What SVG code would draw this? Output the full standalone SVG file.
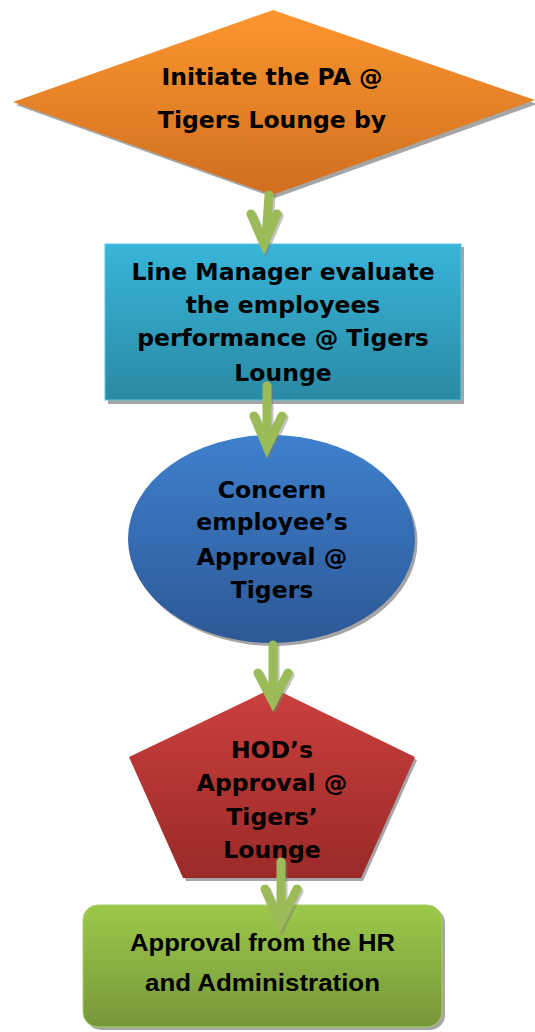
<svg xmlns="http://www.w3.org/2000/svg" width="535" height="1032" viewBox="0 0 535 1032">
<defs>
<linearGradient id="gOrange" x1="0" y1="0" x2="0" y2="1"><stop offset="0" stop-color="#FC962F"/><stop offset="1" stop-color="#D06E1F"/></linearGradient>
<linearGradient id="gCyan" x1="0" y1="0" x2="0" y2="1"><stop offset="0" stop-color="#38B5DA"/><stop offset="1" stop-color="#2A8AA3"/></linearGradient>
<linearGradient id="gBlue" x1="0" y1="0" x2="0" y2="1"><stop offset="0" stop-color="#3E80CD"/><stop offset="1" stop-color="#2D5896"/></linearGradient>
<linearGradient id="gRed" x1="0" y1="0" x2="0" y2="1"><stop offset="0" stop-color="#CB403D"/><stop offset="1" stop-color="#9A2A28"/></linearGradient>
<linearGradient id="gGreen" x1="0" y1="0" x2="0" y2="1"><stop offset="0" stop-color="#9DC84A"/><stop offset="1" stop-color="#76973A"/></linearGradient>
</defs>
<style>
.shadow{fill:#A5A5A5}
.t{font-family:"DejaVu Sans",Verdana,sans-serif;font-weight:bold;fill:#000;text-anchor:middle;font-size:23.5px}
.c{font-family:"Liberation Sans",Arial,sans-serif;font-weight:bold;fill:#000;text-anchor:middle;font-size:24px}
.arr{fill:none;stroke:#9BBB59;stroke-width:9;stroke-linecap:round;stroke-linejoin:miter}
.arrS{fill:none;stroke:#7A7A7A;stroke-opacity:0.45;stroke-width:9;stroke-linecap:round;stroke-linejoin:miter}
</style>

<g id="node-initiate">
<polygon class="shadow" points="275,13 537,104 275,198 16,105"/>
<polygon points="273,10 535,100 272,195 13,102" fill="url(#gOrange)"/>
<text class="t" x="272" y="85">Initiate the PA @</text>
<text class="t" x="272" y="128">Tigers Lounge by</text>
</g>

<g id="node-linemanager">
<rect class="shadow" x="108" y="247" width="356" height="157"/>
<rect x="105" y="244" width="356" height="156" fill="url(#gCyan)" stroke="#5CC3E0" stroke-width="1"/>
<text class="t" x="283" y="280">Line Manager evaluate</text>
<text class="t" x="283" y="313">the employees</text>
<text class="t" x="283" y="346">performance @ Tigers</text>
<text class="t" x="283" y="381">Lounge</text>
</g>

<g id="node-concern">
<ellipse class="shadow" cx="274" cy="542" rx="143.5" ry="104"/>
<ellipse cx="271.5" cy="539" rx="143.5" ry="104" fill="url(#gBlue)"/>
<text class="t" x="272" y="498">Concern</text>
<text class="t" x="272" y="530">employee’s</text>
<text class="t" x="272" y="565">Approval @</text>
<text class="t" x="272" y="598">Tigers</text>
</g>

<g id="node-hod">
<polygon class="shadow" points="275,691 417,760 363,881 186,881 131,760"/>
<polygon points="273,688 415,757 361,878 183,878 129,757" fill="url(#gRed)"/>
<text class="t" x="272" y="758">HOD’s</text>
<text class="t" x="272" y="791">Approval @</text>
<text class="t" x="272" y="825">Tigers’</text>
<text class="t" x="272" y="858">Lounge</text>
</g>

<g id="node-hr">
<rect class="shadow" x="86" y="908" width="359" height="122" rx="15"/>
<rect x="83" y="905" width="359" height="122" rx="15" fill="url(#gGreen)" stroke="#A9CF62" stroke-width="1"/>
<text class="c" x="262.5" y="951" textLength="265" lengthAdjust="spacingAndGlyphs">Approval from the HR</text>
<text class="c" x="262.5" y="991" textLength="235" lengthAdjust="spacingAndGlyphs">and Administration</text>
</g>

<g id="connectors">
<path class="arrS" d="M271,197 L268,240 M253,216 L266,246 L279,216"/>
<path class="arr" d="M269,195 L266,238 M251,214 L264,244 L277,214"/>
<path class="arrS" d="M269,388 L269,440 M256,418 L269,449 L284,418"/>
<path class="arr" d="M267,386 L267,438 M254,416 L267,447 L282,416"/>
<path class="arrS" d="M275,647 L275,694 M260,675 L275,704 L290,675"/>
<path class="arr" d="M273,645 L273,692 M258,673 L273,702 L288,673"/>
<path class="arrS" d="M283,864 L283,915 M267,891 L282,925 L299,891"/>
<path class="arr" d="M281,862 L281,913 M265,889 L280,923 L297,889"/>
</g>
</svg>
